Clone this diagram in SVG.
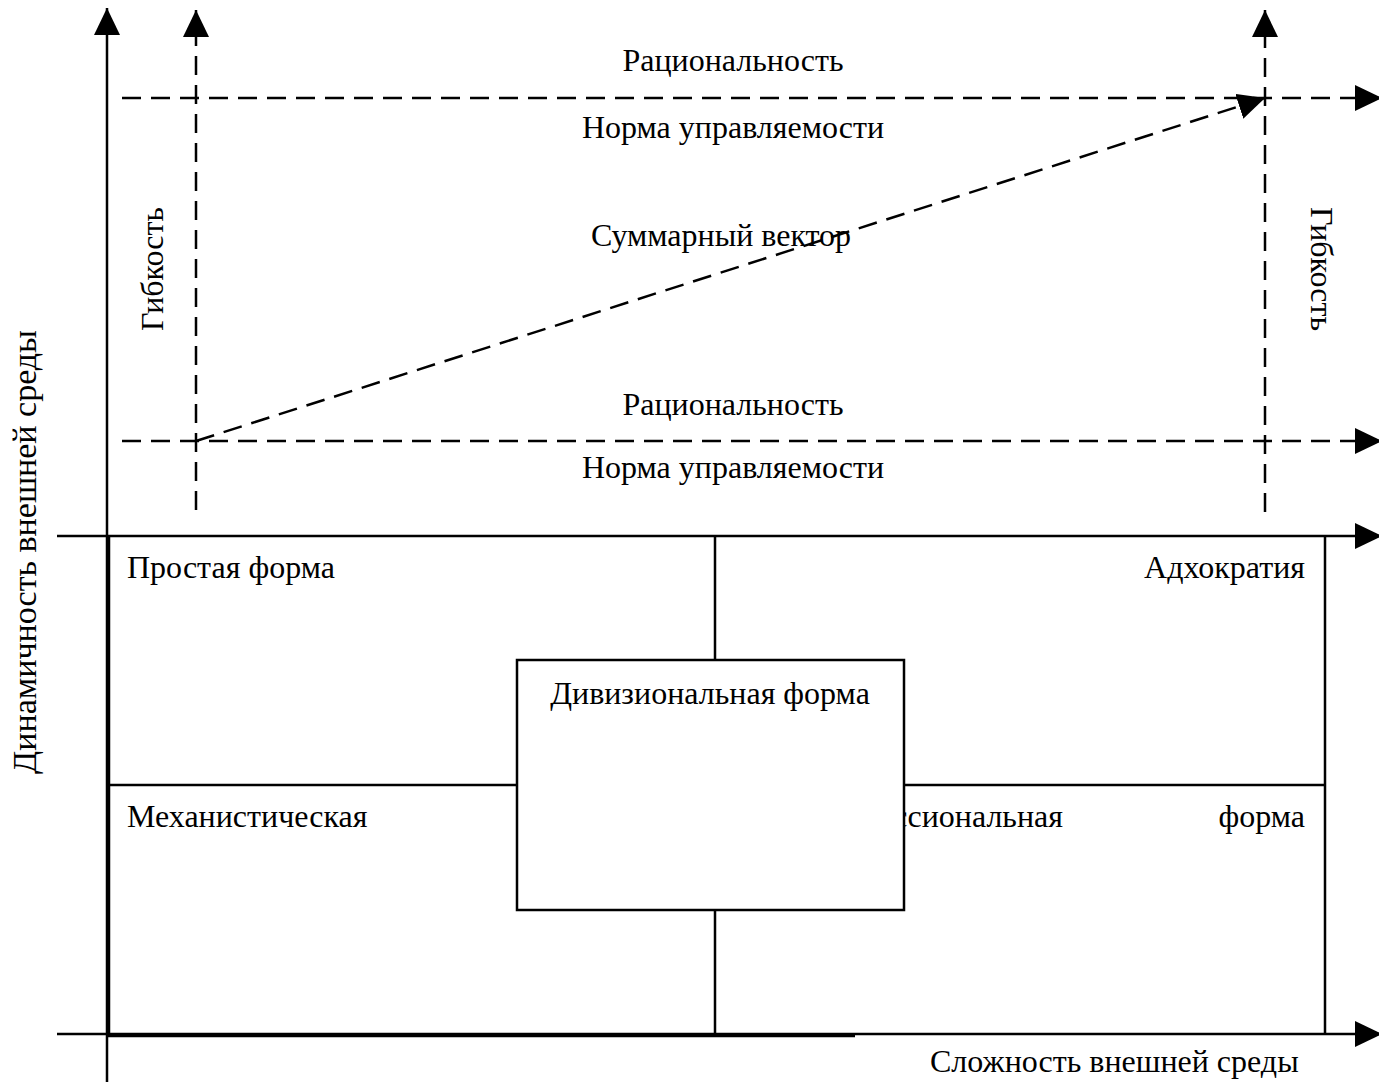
<svg xmlns="http://www.w3.org/2000/svg" width="1379" height="1082" viewBox="0 0 1379 1082">
<style>
.t{font-family:"Liberation Serif","Times New Roman",serif;font-size:32px;fill:#000}
.s{stroke:#000;stroke-width:2.5;fill:none}
.d{stroke:#000;stroke-width:2.5;fill:none;stroke-dasharray:19 10}
</style>
<defs>
<marker id="ah" markerUnits="userSpaceOnUse" markerWidth="27" markerHeight="26" refX="27" refY="13" orient="auto" viewBox="0 0 27 26">
<path d="M0,0 L27,13 L0,26 z" fill="#000"/>
</marker>
</defs>
<rect width="1379" height="1082" fill="#fff"/>
<g id="connectors">
<line class="s" x1="107" y1="1082" x2="107" y2="8" marker-end="url(#ah)"/>
<line class="s" x1="109" y1="536" x2="109" y2="1035"/>
<line class="s" x1="57" y1="536" x2="1382" y2="536" marker-end="url(#ah)"/>
<line class="s" x1="57" y1="1034" x2="1382" y2="1034" marker-end="url(#ah)"/>
<line class="s" x1="107" y1="1036" x2="855" y2="1036"/>
<line class="d" x1="196" y1="510" x2="196" y2="10" marker-end="url(#ah)"/>
<line class="d" x1="1265" y1="512" x2="1265" y2="10" marker-end="url(#ah)"/>
<line class="d" x1="122" y1="98" x2="1382" y2="98" marker-end="url(#ah)"/>
<line class="d" x1="122" y1="441" x2="1382" y2="441" marker-end="url(#ah)"/>
<line class="d" x1="196" y1="441" x2="1265" y2="98" marker-end="url(#ah)"/>
</g>
<g id="grid">
<line class="s" x1="1325" y1="536" x2="1325" y2="1034"/>
<line class="s" x1="107" y1="785" x2="1325" y2="785"/>
<line class="s" x1="715" y1="536" x2="715" y2="1034"/>
</g>
<g id="labels">
<text class="t" x="733" y="71" text-anchor="middle">Рациональность</text>
<text class="t" x="733" y="138" text-anchor="middle">Норма управляемости</text>
<text class="t" x="721" y="246" text-anchor="middle">Суммарный вектор</text>
<text class="t" x="733" y="415" text-anchor="middle">Рациональность</text>
<text class="t" x="733" y="478" text-anchor="middle">Норма управляемости</text>
<text class="t" transform="translate(163,269) rotate(-90)" text-anchor="middle">Гибкость</text>
<text class="t" transform="translate(1311,269) rotate(90)" text-anchor="middle">Гибкость</text>
<text class="t" transform="translate(36,552) rotate(-90)" text-anchor="middle" style="font-size:34px">Динамичность внешней среды</text>
<text class="t" x="930" y="1072">Сложность внешней среды</text>
</g>
<g id="cell-simple"><text class="t" x="127" y="578">Простая форма</text></g>
<g id="cell-adhocracy"><text class="t" x="1305" y="578" text-anchor="end">Адхократия</text></g>
<g id="cell-mechanistic"><text class="t" x="127" y="827">Механистическая</text></g>
<g id="cell-professional"><text class="t" x="1063" y="827" text-anchor="end">Профессиональная</text><text class="t" x="1305" y="827" text-anchor="end">форма</text></g>
<g id="node-divisional">
<rect x="517" y="660" width="387" height="250" fill="#fff" stroke="#000" stroke-width="2.5"/>
<text class="t" x="710" y="704" text-anchor="middle">Дивизиональная форма</text>
</g>
</svg>
